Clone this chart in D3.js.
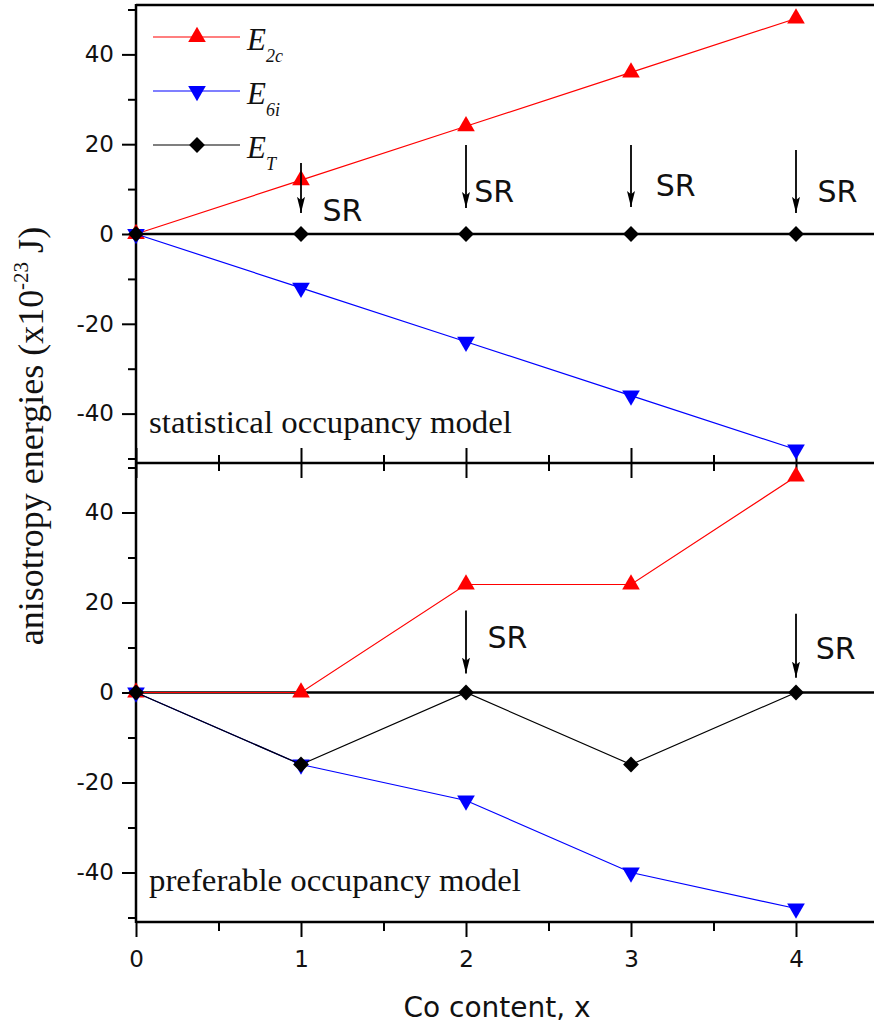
<!DOCTYPE html>
<html>
<head>
<meta charset="utf-8">
<script src="https://cdn.jsdelivr.net/npm/d3@7"></script>
<style>
  body { margin: 0; background: #fff; }
  svg { display: block; }
</style>
</head>
<body>
<svg width="874" height="1030"></svg>
<script>
// Co content values on the x axis
const xs = [0, 1, 2, 3, 4];

// statistical occupancy model (top panel)
const statE2c = [0, 12, 24, 36, 48];
const statE6i = [0, -12, -24, -36, -48];
const statET = [0, 0, 0, 0, 0];

// preferable occupancy model (bottom panel)
const prefE2c = [0, 0, 24, 24, 48];
const prefE6i = [0, -16, -24, -40, -48];
const prefET = [0, -16, 0, -16, 0];

const yTicks = [-40, -20, 0, 20, 40];
const yMinor = [-50, -30, -10, 10, 30, 50];
const xTicks = [0, 1, 2, 3, 4];
const xMinor = [0.5, 1.5, 2.5, 3.5];

// SR arrows: [x, arrow start, arrow tip], labels: [x, y]
const srTopArrows = [[1, 15.8, 4.7], [2, 19.8, 5.8], [3, 19.8, 6.0], [4, 18.7, 4.7]];
const srTopLabels = [[1.13, 5.3], [2.05, 9.6], [3.15, 10.9], [4.13, 9.6]];
const srBotArrows = [[2, 18.2, 4.2], [4, 17.5, 3.3]];
const srBotLabels = [[2.13, 12.4], [4.12, 9.8]];

const legendNames = [["E", "2c"], ["E", "6i"], ["E", "T"]];

var svg = d3.select("svg"),
	left = 136, right = 878.5,
	topY = 5, midY = 463, botY = 922;

var x = d3.scaleLinear().domain([0, 4.5]).range([left, right]);
var yTop = d3.scaleLinear().domain([-51, 51]).range([midY, topY]);
var yBot = d3.scaleLinear().domain([-51, 51]).range([botY, midY]);

var sans = "'DejaVu Sans', Verdana, sans-serif";
var serif = "'Liberation Serif', 'Times New Roman', serif";

// arrow head pointing along +x of the marker
svg.append("defs").append("marker")
	.attr("id", "arrow")
	.attr("viewBox", "0 0 20 10")
	.attr("refX", 20).attr("refY", 5)
	.attr("markerWidth", 16).attr("markerHeight", 8)
	.attr("markerUnits", "userSpaceOnUse")
	.attr("orient", "auto")
	.append("path")
	.attr("d", "M0,0 L20,5 L0,10 L4,5 Z")
	.attr("fill", "black");

function plain(d) { return String(d); }

function styleAxis(g) {
	g.selectAll(".domain").remove();
	g.selectAll(".tick line").attr("stroke", "black").attr("stroke-width", 2);
	g.selectAll(".tick text").style("font-family", sans).style("font-size", "23px").attr("fill", "#111");
}

// y axes for each panel
[yTop, yBot].forEach(function(y) {
	svg.append("g")
		.attr("transform", "translate(" + left + ",0)")
		.call(d3.axisLeft(y).tickValues(yTicks).tickSize(14).tickPadding(8).tickFormat(plain))
		.call(styleAxis);
	svg.append("g")
		.attr("transform", "translate(" + left + ",0)")
		.call(d3.axisLeft(y).tickValues(yMinor).tickSize(8).tickFormat(""))
		.call(styleAxis);
	// zero line
	svg.append("line")
		.attr("x1", left).attr("x2", 874)
		.attr("y1", y(0)).attr("y2", y(0))
		.attr("stroke", "black").attr("stroke-width", 2.5);
});

// bottom x axis
svg.append("g")
	.attr("transform", "translate(0," + botY + ")")
	.call(d3.axisBottom(x).tickValues(xTicks).tickSize(15).tickPadding(14).tickFormat(plain))
	.call(styleAxis);
svg.append("g")
	.attr("transform", "translate(0," + botY + ")")
	.call(d3.axisBottom(x).tickValues(xMinor).tickSize(9).tickFormat(""))
	.call(styleAxis);

// ticks on the panel divider, both sides
[[15, xTicks], [8, xMinor]].forEach(function(t) {
	svg.append("g")
		.attr("transform", "translate(0," + midY + ")")
		.call(d3.axisBottom(x).tickValues(t[1]).tickSize(t[0]).tickFormat(""))
		.call(styleAxis);
	svg.append("g")
		.attr("transform", "translate(0," + midY + ")")
		.call(d3.axisTop(x).tickValues(t[1]).tickSize(t[0]).tickFormat(""))
		.call(styleAxis);
});

// frame lines
[topY, midY, botY].forEach(function(yy) {
	svg.append("line")
		.attr("x1", left).attr("x2", 874)
		.attr("y1", yy).attr("y2", yy)
		.attr("stroke", "black").attr("stroke-width", 2.5);
});
svg.append("line")
	.attr("x1", left).attr("x2", left)
	.attr("y1", topY - 1).attr("y2", botY + 1)
	.attr("stroke", "black").attr("stroke-width", 2.5);

// series
var triUp = d3.symbol().type(d3.symbolTriangle).size(135);
var diamond = d3.symbol().type(d3.symbolSquare).size(125);

function drawSeries(y, vals, color, kind) {
	var pts = xs.map(function(d, i) { return [d, vals[i]]; });
	var line = d3.line()
		.x(function(d) { return x(d[0]); })
		.y(function(d) { return y(d[1]); });
	svg.append("path")
		.datum(pts)
		.attr("fill", "none")
		.attr("stroke", color)
		.attr("stroke-width", 1.2)
		.attr("d", line);
	svg.append("g").selectAll("path")
		.data(pts)
		.enter()
		.append("path")
		.attr("d", kind == "diamond" ? diamond : triUp)
		.attr("transform", function(d) {
			var r = kind == "down" ? 180 : (kind == "diamond" ? 45 : 0);
			return "translate(" + x(d[0]) + "," + y(d[1]) + ") rotate(" + r + ")";
		})
		.attr("fill", color);
}

drawSeries(yTop, statE2c, "#ff0000", "up");
drawSeries(yTop, statE6i, "#0000ff", "down");
drawSeries(yTop, statET, "black", "diamond");
drawSeries(yBot, prefE2c, "#ff0000", "up");
drawSeries(yBot, prefE6i, "#0000ff", "down");
drawSeries(yBot, prefET, "black", "diamond");

// SR annotations
function drawSR(y, arrows, labels) {
	svg.append("g").selectAll("line")
		.data(arrows)
		.enter()
		.append("line")
		.attr("x1", function(d) { return x(d[0]); })
		.attr("x2", function(d) { return x(d[0]); })
		.attr("y1", function(d) { return y(d[1]); })
		.attr("y2", function(d) { return y(d[2]); })
		.attr("stroke", "black")
		.attr("stroke-width", 1.8)
		.attr("marker-end", "url(#arrow)");
	svg.append("g").selectAll("text")
		.data(labels)
		.enter()
		.append("text")
		.attr("x", function(d) { return x(d[0]); })
		.attr("y", function(d) { return y(d[1]); })
		.attr("dy", "0.36em")
		.style("font-family", sans)
		.style("font-size", "30px")
		.attr("fill", "#111")
		.text("SR");
}
drawSR(yTop, srTopArrows, srTopLabels);
drawSR(yBot, srBotArrows, srBotLabels);

// legend
var legendColors = ["#ff0000", "#0000ff", "black"];
var legendKinds = ["up", "down", "diamond"];
legendNames.forEach(function(n, i) {
	var ly = 37 + i * 54;
	svg.append("line")
		.attr("x1", 153).attr("x2", 240)
		.attr("y1", ly).attr("y2", ly)
		.attr("stroke", legendColors[i]).attr("stroke-width", 1.2);
	var r = legendKinds[i] == "down" ? 180 : (legendKinds[i] == "diamond" ? 45 : 0);
	svg.append("path")
		.attr("d", legendKinds[i] == "diamond" ? diamond : triUp)
		.attr("transform", "translate(197," + ly + ") rotate(" + r + ")")
		.attr("fill", legendColors[i]);
	var t = svg.append("text")
		.attr("x", 247).attr("y", ly + 13)
		.style("font-family", serif)
		.style("font-style", "italic")
		.style("font-size", "31px")
		.attr("fill", "#111");
	t.append("tspan").text(n[0]);
	t.append("tspan").attr("dy", 12).style("font-size", "18px").text(n[1]);
});

// panel captions
svg.append("text")
	.attr("x", 149).attr("y", 433)
	.style("font-family", serif).style("font-size", "31px")
	.attr("textLength", 363).attr("lengthAdjust", "spacingAndGlyphs")
	.attr("fill", "#111")
	.text("statistical occupancy model");
svg.append("text")
	.attr("x", 149).attr("y", 891)
	.style("font-family", serif).style("font-size", "31px")
	.attr("textLength", 372).attr("lengthAdjust", "spacingAndGlyphs")
	.attr("fill", "#111")
	.text("preferable occupancy model");

// axis titles
svg.append("text")
	.attr("x", 497).attr("y", 1017)
	.attr("text-anchor", "middle")
	.style("font-family", sans).style("font-size", "28px")
	.attr("fill", "#111")
	.text("Co content, x");

var yl = svg.append("text")
	.attr("transform", "translate(43,436) rotate(-90)")
	.attr("text-anchor", "middle")
	.style("font-family", serif).style("font-size", "36px")
	.attr("fill", "#111");
yl.append("tspan").text("anisotropy energies (x10");
yl.append("tspan").attr("dy", -15).style("font-size", "21px").text("-23");
yl.append("tspan").attr("dy", 15).text(" J)");
</script>
</body>
</html>
